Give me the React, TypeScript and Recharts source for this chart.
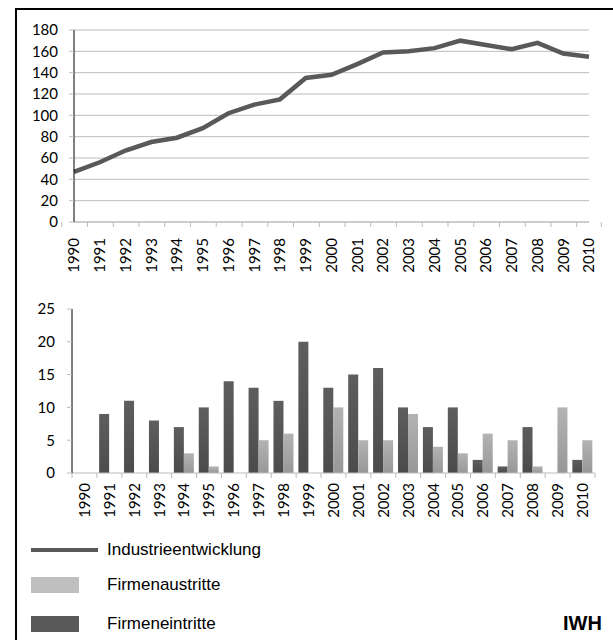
import React from "react";
import { LineChart, Line, BarChart, Bar, XAxis, YAxis, CartesianGrid } from "recharts";

const YEARS = [
  "1990", "1991", "1992", "1993", "1994", "1995", "1996", "1997", "1998", "1999", "2000",
  "2001", "2002", "2003", "2004", "2005", "2006", "2007", "2008", "2009", "2010",
];
const INDUSTRY = [47, 56, 67, 75, 79, 88, 102, 110, 115, 135, 138, 148, 159, 160, 163, 170, 166, 162, 168, 158, 155];
const ENTRIES = [0, 9, 11, 8, 7, 10, 14, 13, 11, 20, 13, 15, 16, 10, 7, 10, 2, 1, 7, 0, 2];
const EXITS = [0, 0, 0, 0, 3, 1, 0, 5, 6, 0, 10, 5, 5, 9, 4, 3, 6, 5, 1, 10, 5];
const TOP_TICKS = [0, 20, 40, 60, 80, 100, 120, 140, 160, 180];
const BOTTOM_TICKS = [0, 5, 10, 15, 20, 25];

const lineData = YEARS.map((year, i) => ({ year, industry: INDUSTRY[i] }));
const barData = YEARS.map((year, i) => ({ year, entries: ENTRIES[i], exits: EXITS[i] }));

const AXIS_FONT = "Lato, 'Open Sans', sans-serif";
const LEGEND_FONT = "'Liberation Sans', Arial, sans-serif";
const GRID = "#bcbcbc";
const DARK = "#595959";
const LIGHT = "#bfbfbf";

// Excel-style category tick: tick marks sit between the categories, label rotated
function makeYearTick(band: number, labelOffset: number, count: number) {
  return function YearTick(props: any) {
    const { x, y, payload, index } = props;
    const left = x - band / 2;
    return (
      <g>
        <line x1={left} y1={y} x2={left} y2={y + 5} stroke={GRID} />
        {index === count - 1 && <line x1={x + band / 2} y1={y} x2={x + band / 2} y2={y + 5} stroke={GRID} />}
        <text
          x={x}
          y={y + labelOffset}
          transform={`rotate(-90, ${x}, ${y + labelOffset})`}
          textAnchor="end"
          dy="0.36em"
          fontFamily={AXIS_FONT}
          fontSize={15}
          fill="#000"
        >
          {payload.value}
        </text>
      </g>
    );
  };
}

const TopTick = makeYearTick((589 - 74) / 21, 16, YEARS.length);
const BottomTick = makeYearTick((595 - 72) / 21, 10, YEARS.length);

function LegendRow({ top, text, children }: { top: number; text: string; children: React.ReactNode }) {
  return (
    <div style={{ position: "absolute", left: 31, top, height: 20, display: "flex", alignItems: "center" }}>
      <div style={{ width: 76, display: "flex", alignItems: "center" }}>{children}</div>
      <span style={{ fontFamily: LEGEND_FONT, fontSize: 17, color: "#000" }}>{text}</span>
    </div>
  );
}

export default function App() {
  return (
    <div style={{ position: "absolute", left: 0, top: 0, width: 613, height: 640, background: "#fff", overflow: "hidden" }}>
      <div style={{ position: "absolute", left: 15, top: 8, width: 598, height: 2, background: "#000" }} />
      <div style={{ position: "absolute", left: 15, top: 8, width: 2, height: 632, background: "#000" }} />

      <div style={{ position: "absolute", left: 0, top: 0 }}>
        <LineChart width={613} height={290} data={lineData} margin={{ top: 30, right: 24, bottom: 0, left: 0 }}>
          <CartesianGrid horizontal vertical={false} stroke={GRID} strokeDasharray="" />
          <XAxis
            dataKey="year"
            height={68}
            interval={0}
            tickSize={0}
            tickMargin={0}
            axisLine={{ stroke: GRID }}
            tickLine={false}
            tick={<TopTick />}
          />
          <YAxis
            width={74}
            domain={[0, 180]}
            ticks={TOP_TICKS}
            interval={0}
            tickSize={5}
            tickMargin={11}
            axisLine={{ stroke: "#000" }}
            tickLine={{ stroke: GRID }}
            tick={{ fontFamily: AXIS_FONT, fontSize: 15, fill: "#000" }}
          />
          <Line
            type="linear"
            dataKey="industry"
            stroke={DARK}
            strokeWidth={4.5}
            dot={false}
            isAnimationActive={false}
          />
        </LineChart>
      </div>

      <div style={{ position: "absolute", left: 0, top: 290 }}>
        <BarChart
          width={613}
          height={230}
          data={barData}
          margin={{ top: 19, right: 18, bottom: 0, left: 0 }}
          barCategoryGap="9%"
          barGap={0}
        >
          <defs>
            <linearGradient id="gDark" x1="0" y1="0" x2="0" y2="1">
              <stop offset="0%" stopColor="#5e5e5e" />
              <stop offset="100%" stopColor="#4b4b4b" />
            </linearGradient>
            <linearGradient id="gLight" x1="0" y1="0" x2="0" y2="1">
              <stop offset="0%" stopColor="#b3b3b3" />
              <stop offset="100%" stopColor="#989898" />
            </linearGradient>
          </defs>
          <XAxis
            dataKey="year"
            height={47}
            interval={0}
            tickSize={0}
            tickMargin={0}
            axisLine={{ stroke: GRID }}
            tickLine={false}
            tick={<BottomTick />}
          />
          <YAxis
            width={72}
            domain={[0, 25]}
            ticks={BOTTOM_TICKS}
            interval={0}
            tickSize={5}
            tickMargin={12}
            axisLine={{ stroke: "#000" }}
            tickLine={{ stroke: GRID }}
            tick={{ fontFamily: AXIS_FONT, fontSize: 15, fill: "#000" }}
          />
          <Bar dataKey="entries" fill="url(#gDark)" isAnimationActive={false} />
          <Bar dataKey="exits" fill="url(#gLight)" isAnimationActive={false} />
        </BarChart>
      </div>

      <LegendRow top={540} text="Industrieentwicklung">
        <div style={{ width: 67, height: 4, background: DARK }} />
      </LegendRow>
      <LegendRow top={575} text="Firmenaustritte">
        <div style={{ width: 48, height: 16, background: LIGHT }} />
      </LegendRow>
      <LegendRow top={614} text="Firmeneintritte">
        <div style={{ width: 48, height: 16, background: DARK }} />
      </LegendRow>
      <div
        style={{
          position: "absolute",
          left: 563,
          top: 612,
          fontFamily: LEGEND_FONT,
          fontWeight: "bold",
          fontSize: 20,
          color: "#000",
        }}
      >
        IWH
      </div>
    </div>
  );
}
